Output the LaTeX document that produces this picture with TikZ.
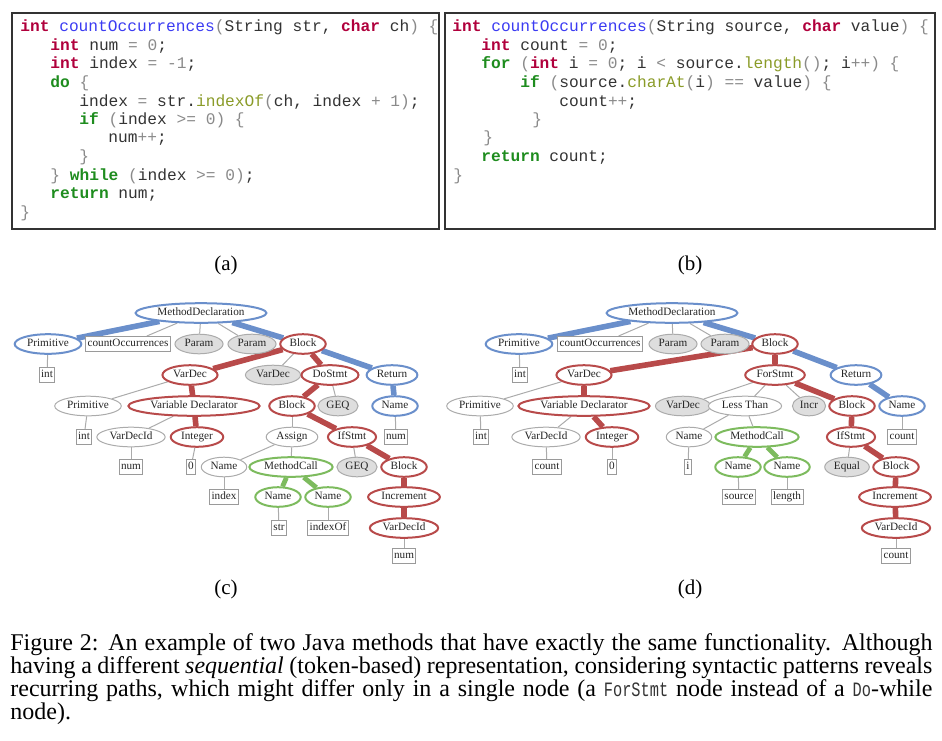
\documentclass[tikz,border=0pt]{standalone}
\usepackage{fontspec}
\setmainfont{Liberation Serif}
\setmonofont{Liberation Mono}
\newfontfamily\capfont{Liberation Serif}
\newfontfamily\capmono[FakeStretch=0.75]{Liberation Mono}
\usetikzlibrary{shapes.geometric}
\pgfdeclarelayer{bg}
\pgfsetlayers{bg,main}
\definecolor{cblue}{HTML}{6A8FCB}
\definecolor{cred}{HTML}{B84A4A}
\definecolor{cgreen}{HTML}{7DBB5E}
\definecolor{cgrayline}{HTML}{ABABAB}
\definecolor{cbox}{HTML}{9A9A9A}
\definecolor{cfill}{HTML}{DEDEDE}
\definecolor{ckw}{HTML}{B0003C}
\definecolor{cct}{HTML}{1E8C1E}
\definecolor{cfn}{HTML}{3B3BF2}
\definecolor{cmt}{HTML}{8A9B28}
\definecolor{cpu}{HTML}{8A8A8A}
\definecolor{cid}{HTML}{333333}
\definecolor{cframe}{HTML}{333333}
\newcommand{\cdKw}[1]{\textcolor{ckw}{\textbf{#1}}}
\newcommand{\cdCt}[1]{\textcolor{cct}{\textbf{#1}}}
\newcommand{\cdFn}[1]{\textcolor{cfn}{#1}}
\newcommand{\cdMt}[1]{\textcolor{cmt}{#1}}
\newcommand{\cdPu}[1]{\textcolor{cpu}{#1}}
\newcommand{\capTT}[1]{{\fontsize{10.2}{11}\selectfont\capmono\textcolor{black!80}{#1}}}
\newcommand{\treefont}{\fontsize{5.6}{6}\selectfont}
\tikzset{
 tn/.style={ellipse, inner xsep=1.35pt, inner ysep=0.3pt, minimum height=9.8pt, text height=4pt, text depth=1.2pt, font=\treefont, fill=white, text=black!85},
 nBlue/.style={tn, draw=cblue, line width=1pt},
 nRed/.style={tn, draw=cred, line width=1pt},
 nGreen/.style={tn, draw=cgreen, line width=1pt},
 nPlain/.style={tn, draw=cgrayline, line width=0.5pt},
 nFill/.style={tn, draw=cgrayline, fill=cfill, line width=0.5pt},
 nLeaf/.style={rectangle, draw=cbox, line width=0.5pt, fill=white, inner xsep=1pt, inner ysep=0pt, minimum height=7.5pt, text height=4pt, text depth=1.2pt, font=\treefont, text=black!85},
 eThin/.style={draw=cgrayline, line width=0.5pt},
 eBlue/.style={draw=cblue, line width=2.8pt},
 eRed/.style={draw=cred, line width=2.8pt},
 eGreen/.style={draw=cgreen, line width=2.4pt},
 codeline/.style={anchor=base west, inner sep=0pt, font=\fontsize{8.1}{9}\selectfont\ttfamily, text=cid},
 sublabel/.style={inner sep=0pt, font=\fontsize{10.5}{12}\selectfont},
 capline/.style={anchor=base west, inner sep=0pt, font=\fontsize{12}{11.5}\selectfont\capfont},
 frame/.style={draw=cframe, line width=0.7pt},
}
\begin{document}
\begin{tikzpicture}[x=0.5pt,y=-0.5pt]
\useasboundingbox (0,0) rectangle (942,740);
% ---------- code (a)
\draw[frame] (12,13) rectangle (439,229);
\node[codeline] (a1) at (20,31.5) {\cdKw{int} \cdFn{countOccurrences}\cdPu{(}String str, \cdKw{char} ch\cdPu{)} \cdPu{\{}};
\node[codeline] (a2) at (50,50.5) {\cdKw{int} num \cdPu{=} \cdPu{0};};
\node[codeline] (a3) at (50,68.5) {\cdKw{int} index \cdPu{=} \cdPu{-1};};
\node[codeline] (a4) at (50,87.5) {\cdCt{do} \cdPu{\{}};
\node[codeline] (a5) at (79,106.5) {index \cdPu{=} str.\cdMt{indexOf}\cdPu{(}ch, index \cdPu{+} \cdPu{1}\cdPu{)};};
\node[codeline] (a6) at (79,124.5) {\cdCt{if} \cdPu{(}index \cdPu{>=} \cdPu{0}\cdPu{)} \cdPu{\{}};
\node[codeline] (a7) at (108,142.5) {num\cdPu{++};};
\node[codeline] (a8) at (79,161.5) {\cdPu{\}}};
\node[codeline] (a9) at (50,180.5) {\cdPu{\}} \cdCt{while} \cdPu{(}index \cdPu{>=} \cdPu{0}\cdPu{)};};
\node[codeline] (a10) at (50,198.5) {\cdCt{return} num;};
\node[codeline] (a11) at (20,217.5) {\cdPu{\}}};
% ---------- code (b)
\draw[frame] (445,13) rectangle (935,229);
\node[codeline] (b1) at (452,31.5) {\cdKw{int} \cdFn{countOccurrences}\cdPu{(}String source, \cdKw{char} value\cdPu{)} \cdPu{\{}};
\node[codeline] (b2) at (481,50.5) {\cdKw{int} count \cdPu{=} \cdPu{0};};
\node[codeline] (b3) at (481,68.5) {\cdCt{for} \cdPu{(}\cdKw{int} i \cdPu{=} \cdPu{0}; i \cdPu{<} source.\cdMt{length}\cdPu{()}; i\cdPu{++}\cdPu{)} \cdPu{\{}};
\node[codeline] (b4) at (520,87.5) {\cdCt{if} \cdPu{(}source.\cdMt{charAt}\cdPu{(}i\cdPu{)} \cdPu{==} value\cdPu{)} \cdPu{\{}};
\node[codeline] (b5) at (559,106.5) {count\cdPu{++};};
\node[codeline] (b6) at (532,124.5) {\cdPu{\}}};
\node[codeline] (b7) at (483,142.5) {\cdPu{\}}};
\node[codeline] (b8) at (481,161.5) {\cdCt{return} count;};
\node[codeline] (b9) at (453,180.5) {\cdPu{\}}};
% ---------- sub labels
\node[sublabel] (la) at (226,265) {(a)};
\node[sublabel] (lb) at (690,265) {(b)};
\node[sublabel] (lc) at (226,589) {(c)};
\node[sublabel] (ld) at (690,589) {(d)};
% ---------- tree (c)
\node[nBlue] (c-md) at (201,313) {MethodDeclaration};
\node[nBlue] (c-prim) at (48,344) {Primitive};
\node[nLeaf] (c-co) at (128,344) {countOccurrences};
\node[nFill] (c-p1) at (199,344) {Param};
\node[nFill] (c-p2) at (252,344) {Param};
\node[nRed] (c-blk) at (303,344) {Block};
\node[nLeaf] (c-int) at (47,375) {int};
\node[nRed] (c-vd) at (190,375) {VarDec};
\node[nFill] (c-vdg) at (273,375) {VarDec};
\node[nRed] (c-do) at (330,375) {DoStmt};
\node[nBlue] (c-ret) at (392,375) {Return};
\node[nPlain] (c-prim2) at (88,406) {Primitive};
\node[nRed] (c-decl) at (194,406) {Variable Declarator};
\node[nRed] (c-blk2) at (292,406) {Block};
\node[nFill] (c-geq) at (338,406) {GEQ};
\node[nBlue] (c-name) at (395,406) {Name};
\node[nLeaf] (c-int2) at (84,437) {int};
\node[nPlain] (c-vdid) at (131,437) {VarDecId};
\node[nRed] (c-intg) at (197,437) {Integer};
\node[nPlain] (c-asg) at (292,437) {Assign};
\node[nRed] (c-if) at (352,437) {IfStmt};
\node[nLeaf] (c-numb) at (396,437) {num};
\node[nLeaf] (c-num) at (131,467) {num};
\node[nLeaf] (c-zero) at (191,467) {0};
\node[nPlain] (c-nidx) at (224,467) {Name};
\node[nGreen] (c-mc) at (291,467) {MethodCall};
\node[nFill] (c-geq2) at (357,467) {GEQ};
\node[nRed] (c-blk3) at (404,467) {Block};
\node[nLeaf] (c-idx) at (224,497) {index};
\node[nGreen] (c-n1) at (278,497) {Name};
\node[nGreen] (c-n2) at (328,497) {Name};
\node[nRed] (c-inc) at (404,497) {Increment};
\node[nLeaf] (c-str) at (279,528) {str};
\node[nLeaf] (c-iof) at (328,528) {indexOf};
\node[nRed] (c-vdid2) at (404,528) {VarDecId};
\node[nLeaf] (c-num2) at (404,556) {num};
% ---------- tree (d)
\node[nBlue] (d-md) at (672,313) {MethodDeclaration};
\node[nBlue] (d-prim) at (519,344) {Primitive};
\node[nLeaf] (d-co) at (600,344) {countOccurrences};
\node[nFill] (d-p1) at (673,344) {Param};
\node[nFill] (d-p2) at (725,344) {Param};
\node[nRed] (d-blk) at (775,344) {Block};
\node[nLeaf] (d-int) at (520,375) {int};
\node[nRed] (d-vd) at (584,375) {VarDec};
\node[nRed] (d-for) at (775,375) {ForStmt};
\node[nBlue] (d-ret) at (856,375) {Return};
\node[nPlain] (d-prim2) at (480,406) {Primitive};
\node[nRed] (d-decl) at (584,406) {Variable Declarator};
\node[nFill] (d-vdg) at (683,406) {VarDec};
\node[nPlain] (d-lt) at (745,406) {Less Than};
\node[nFill] (d-incr) at (809,406) {Incr};
\node[nRed] (d-blk2) at (852,406) {Block};
\node[nBlue] (d-name) at (902,406) {Name};
\node[nLeaf] (d-int2) at (481,437) {int};
\node[nPlain] (d-vdid) at (546,437) {VarDecId};
\node[nRed] (d-intg) at (612,437) {Integer};
\node[nPlain] (d-ni) at (689,437) {Name};
\node[nGreen] (d-mc) at (757,437) {MethodCall};
\node[nRed] (d-if) at (851,437) {IfStmt};
\node[nLeaf] (d-cnt) at (902,437) {count};
\node[nLeaf] (d-count) at (547,467) {count};
\node[nLeaf] (d-zero) at (612,467) {0};
\node[nLeaf] (d-i) at (688,467) {i};
\node[nGreen] (d-n1) at (738,467) {Name};
\node[nGreen] (d-n2) at (787,467) {Name};
\node[nFill] (d-eq) at (847,467) {Equal};
\node[nRed] (d-blk3) at (896,467) {Block};
\node[nLeaf] (d-src) at (739,497) {source};
\node[nLeaf] (d-len) at (787,497) {length};
\node[nRed] (d-inc) at (895,497) {Increment};
\node[nRed] (d-vdid2) at (896,528) {VarDecId};
\node[nLeaf] (d-cnt2) at (896,556) {count};
% ---------- edges
\begin{pgfonlayer}{bg}
% (c)
\foreach \a/\b in {c-md/c-co, c-md/c-p1, c-md/c-p2, c-prim/c-int, c-blk/c-vdg, c-vd/c-prim2, c-prim2/c-int2, c-decl/c-vdid, c-vdid/c-num, c-intg/c-zero, c-do/c-geq, c-name/c-numb, c-blk2/c-asg, c-asg/c-nidx, c-asg/c-mc, c-nidx/c-idx, c-if/c-geq2, c-n1/c-str, c-n2/c-iof, c-vdid2/c-num2}
  \draw[eThin] (\a) -- (\b);
\foreach \a/\b in {c-md/c-prim, c-md/c-blk, c-blk/c-ret, c-ret/c-name}
  \draw[eBlue] (\a) -- (\b);
\foreach \a/\b in {c-blk/c-vd, c-blk/c-do, c-vd/c-decl, c-decl/c-intg, c-do/c-blk2, c-blk2/c-if, c-if/c-blk3, c-blk3/c-inc, c-inc/c-vdid2}
  \draw[eRed] (\a) -- (\b);
\foreach \a/\b in {c-mc/c-n1, c-mc/c-n2}
  \draw[eGreen] (\a) -- (\b);
% (d)
\foreach \a/\b in {d-md/d-co, d-md/d-p1, d-md/d-p2, d-prim/d-int, d-name/d-cnt, d-vd/d-prim2, d-prim2/d-int2, d-decl/d-vdid, d-vdid/d-count, d-intg/d-zero, d-for/d-vdg, d-for/d-lt, d-for/d-incr, d-lt/d-ni, d-lt/d-mc, d-ni/d-i, d-if/d-eq, d-n1/d-src, d-n2/d-len, d-vdid2/d-cnt2}
  \draw[eThin] (\a) -- (\b);
\foreach \a/\b in {d-md/d-prim, d-md/d-blk, d-blk/d-ret, d-ret/d-name}
  \draw[eBlue] (\a) -- (\b);
\foreach \a/\b in {d-blk/d-vd, d-blk/d-for, d-vd/d-decl, d-decl/d-intg, d-for/d-blk2, d-blk2/d-if, d-if/d-blk3, d-blk3/d-inc, d-inc/d-vdid2}
  \draw[eRed] (\a) -- (\b);
\foreach \a/\b in {d-mc/d-n1, d-mc/d-n2}
  \draw[eGreen] (\a) -- (\b);
\end{pgfonlayer}
% ---------- caption
\node[capline] (cap1) at (10,650) {\makebox[461pt][s]{Figure 2: An example of two Java methods that have exactly the same functionality. Although}};
\node[capline] (cap2) at (10,673) {\makebox[461pt][s]{having a different \textit{sequential} (token-based) representation, considering syntactic patterns reveals}};
\node[capline] (cap3) at (10,696) {\makebox[461pt][s]{recurring paths, which might differ only in a single node (a \capTT{ForStmt} node instead of a \capTT{Do}-while}};
\node[capline] (cap4) at (10,719) {node).};
\end{tikzpicture}
\end{document}
